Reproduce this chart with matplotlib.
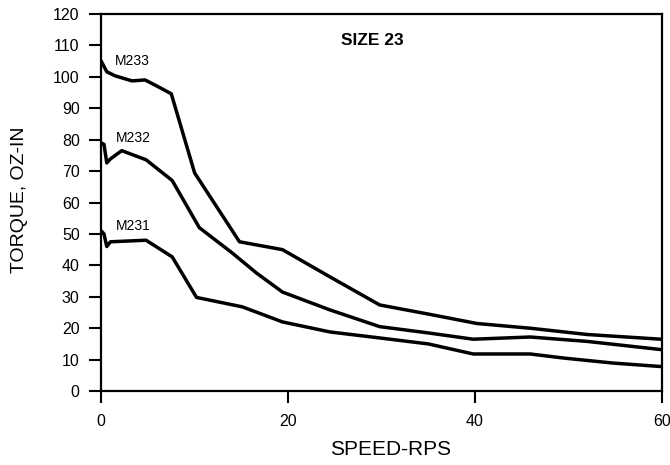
import matplotlib
matplotlib.use("Agg")
import matplotlib.pyplot as plt

plt.rcParams['font.family'] = ['Liberation Sans', 'DejaVu Sans']

# torque curves (speed rps -> torque oz-in)
m233_x = [0, 0.6, 1.5, 3.3, 4.7, 6.0, 7.5, 10.0, 14.8, 19.4, 24.5, 29.8, 35.0, 40.2, 45.9, 52.0, 59.9]
m233_y = [105, 101.6, 100.3, 98.7, 99.0, 97.0, 94.6, 69.4, 47.5, 45.0, 36.3, 27.4, 24.5, 21.5, 20.0, 18.0, 16.5]

m232_x = [0, 0.3, 0.6, 1.0, 2.2, 4.8, 7.6, 10.5, 14.0, 16.6, 19.4, 24.5, 29.8, 35.0, 39.8, 45.9, 52.0, 59.9]
m232_y = [79, 78.5, 72.6, 73.9, 76.5, 73.6, 67.0, 52.0, 44.0, 37.6, 31.5, 25.8, 20.5, 18.5, 16.5, 17.2, 15.8, 13.2]

m231_x = [0, 0.3, 0.6, 1.0, 4.8, 7.6, 10.2, 15.1, 19.4, 24.5, 29.8, 35.0, 39.8, 45.9, 49.5, 54.8, 59.9]
m231_y = [51, 50, 46.0, 47.5, 48.0, 42.7, 29.8, 26.8, 22.0, 18.8, 16.9, 15.0, 11.8, 11.8, 10.5, 8.9, 7.8]

curves = [("M233", m233_x, m233_y, (1.5, 105)),
          ("M232", m232_x, m232_y, (1.6, 80.5)),
          ("M231", m231_x, m231_y, (1.6, 52.5))]

y_ticks = list(range(0, 121, 10))
x_ticks = [0, 20, 40, 60]

fig = plt.figure(figsize=(6.7, 4.65), dpi=100)
ax = fig.add_axes([0.151, 0.159, 0.837, 0.811])

for name, xs, ys, pos in curves:
    ax.plot(xs, ys, color="black", linewidth=2.5, solid_joinstyle="round")
    ax.text(pos[0], pos[1], name, fontsize=10, va="center", ha="left")

ax.text(25.7, 111.4, "SIZE 23", fontsize=12.5, fontweight="bold", va="center", ha="left")

ax.set_xlim(0, 60)
ax.set_ylim(0, 120)
ax.set_xticks(x_ticks)
ax.set_yticks(y_ticks)
ax.tick_params(direction="out", length=8.5, width=1.5, labelsize=11.5)
ax.tick_params(axis="y", pad=7)
ax.tick_params(axis="x", pad=8)
for sp in ax.spines.values():
    sp.set_linewidth(1.6)

ax.set_xlabel("SPEED-RPS", fontsize=15, va="center")
ax.xaxis.set_label_coords(0.517, -0.156)
ax.set_ylabel("TORQUE, OZ-IN", fontsize=14, va="center")
ax.yaxis.set_label_coords(-0.146, 0.507)

fig.savefig("out.png", dpi=100)
